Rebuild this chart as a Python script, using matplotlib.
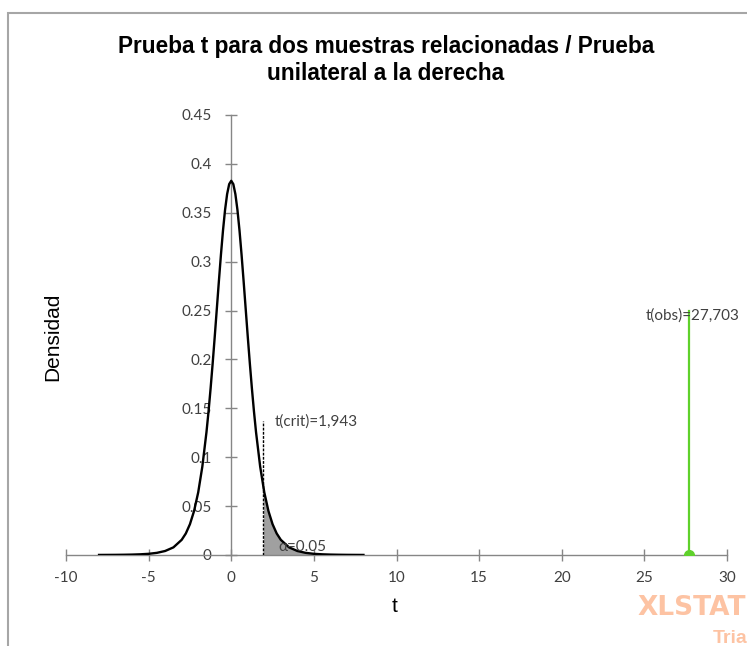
import numpy as np
import matplotlib
matplotlib.use("Agg")
from matplotlib import pyplot as plt
from matplotlib.patches import Rectangle

# density curve (t, df=6)
t_vals = [-8, -7.5, -7, -6.5, -6, -5.5, -5, -4.5, -4, -3.5, -3, -2.75, -2.5, -2.25,
          -2, -1.75, -1.5, -1.375, -1.25, -1.125, -1, -0.875, -0.75, -0.625, -0.5,
          -0.375, -0.25, -0.125, 0, 0.125, 0.25, 0.375, 0.5, 0.625, 0.75, 0.875, 1,
          1.125, 1.25, 1.375, 1.5, 1.75, 2, 2.25, 2.5, 2.75, 3, 3.5, 4, 4.5, 5,
          5.5, 6, 6.5, 7, 7.5, 8]
dens = [0.00007, 0.00011, 0.00016, 0.00026, 0.00042, 0.00071, 0.0012, 0.0022,
        0.0041, 0.0078, 0.0155, 0.0220, 0.0315, 0.0450, 0.0640, 0.0904, 0.1256,
        0.1467, 0.1703, 0.1959, 0.2231, 0.2514, 0.2797, 0.3069, 0.3318, 0.3529,
        0.3691, 0.3793, 0.3827, 0.3793, 0.3691, 0.3529, 0.3318, 0.3069, 0.2797,
        0.2514, 0.2231, 0.1959, 0.1703, 0.1467, 0.1256, 0.0904, 0.0640, 0.0450,
        0.0315, 0.0220, 0.0155, 0.0078, 0.0041, 0.0022, 0.0012, 0.00071, 0.00042,
        0.00026, 0.00016, 0.00011, 0.00007]

t_crit = 1.943
dens_crit = 0.0693
crit_top = 0.137
t_obs = 27.703
obs_top = 0.25
alpha_txt = "α=0.05"

x_ticks = [-10, -5, 0, 5, 10, 15, 20, 25, 30]
y_ticks = [0, 0.05, 0.1, 0.15, 0.2, 0.25, 0.3, 0.35, 0.4, 0.45]
y_labels = ["0", "0.05", "0.1", "0.15", "0.2", "0.25", "0.3", "0.35", "0.4", "0.45"]

axis_col = "#868686"
txt_col = "#404040"
tick_font = ["Lato", "DejaVu Sans"]
arial = ["Liberation Sans", "DejaVu Sans"]

fig = plt.figure(figsize=(7.47, 6.46), dpi=100)
fig.patches.append(Rectangle((8 / 747, -0.1), 1.2, 1 - 13 / 646 + 0.1,
                             transform=fig.transFigure, fill=False,
                             edgecolor="#a6a6a6", linewidth=1.5))
ax = fig.add_axes([66 / 747, 1 - 555 / 646, 661 / 747, 440 / 646])

# shaded tail
tx = np.array(t_vals)
ty = np.array(dens)
mask = tx > t_crit
fill_x = np.concatenate([[t_crit], tx[mask]])
fill_y = np.concatenate([[dens_crit], ty[mask]])
ax.fill_between(fill_x, 0, fill_y, color="#a0a0a0", linewidth=0, zorder=2)

ax.plot(t_vals, dens, color="black", linewidth=1.7, zorder=4)
ax.plot([t_crit, t_crit], [0, crit_top], color="black", linestyle=(0, (2, 1)),
        linewidth=1, zorder=3)
ax.plot([t_obs, t_obs], [0, obs_top], color="#5fd12b", linewidth=1.6, zorder=3)
ax.plot([t_obs], [0], "o", color="#5fd12b", markersize=7, zorder=5)

ax.text(2.65, 0.136, "t(crit)=1,943", fontsize=11, family=tick_font,
        color=txt_col, va="center", ha="left")
ax.text(t_obs + 0.2, 0.245, "t(obs)=27,703", fontsize=11, family=tick_font,
        color=txt_col, va="center", ha="center")
ax.text(2.85, 0.008, alpha_txt, fontsize=11, family=tick_font,
        color=txt_col, va="center", ha="left", zorder=6)

ax.set_xlim(-10, 30)
ax.set_ylim(0, 0.45)
ax.spines["left"].set_position(("data", 0))
ax.spines["right"].set_visible(False)
ax.spines["top"].set_visible(False)
for s in ["left", "bottom"]:
    ax.spines[s].set_color(axis_col)
    ax.spines[s].set_linewidth(1)
ax.set_xticks(x_ticks)
ax.set_xticklabels([str(v) for v in x_ticks], family=tick_font)
ax.set_yticks(y_ticks)
ax.set_yticklabels(y_labels, family=tick_font)
ax.tick_params(direction="inout", length=9, width=1, color=axis_col,
               labelsize=11, labelcolor=txt_col)
ax.tick_params(axis="x", pad=7)
ax.tick_params(axis="y", pad=9.5)
ax.patch.set_alpha(0)

fig.text(386 / 747, 1 - 60 / 646,
         "Prueba t para dos muestras relacionadas / Prueba\nunilateral a la derecha",
         ha="center", va="center", fontsize=16.3, fontweight="bold",
         family=arial, linespacing=1.2)
fig.text(53 / 747, 1 - 337 / 646, "Densidad", rotation=90, ha="center",
         va="center", fontsize=15, family=arial)
fig.text(395 / 747, 1 - 607 / 646, "t", ha="center", va="center",
         fontsize=15, family=arial)

fig.text(637 / 747, 1 - 615 / 646, "XLSTAT", ha="left", va="baseline",
         fontsize=19, fontweight="bold", color="#fdc3a3",
         family=["DejaVu Sans"])
fig.text(713 / 747, 1 - 643 / 646, "Trial", ha="left", va="baseline",
         fontsize=14, fontweight="bold", color="#fdc3a3", family=arial)

fig.savefig("out.png", dpi=100)
